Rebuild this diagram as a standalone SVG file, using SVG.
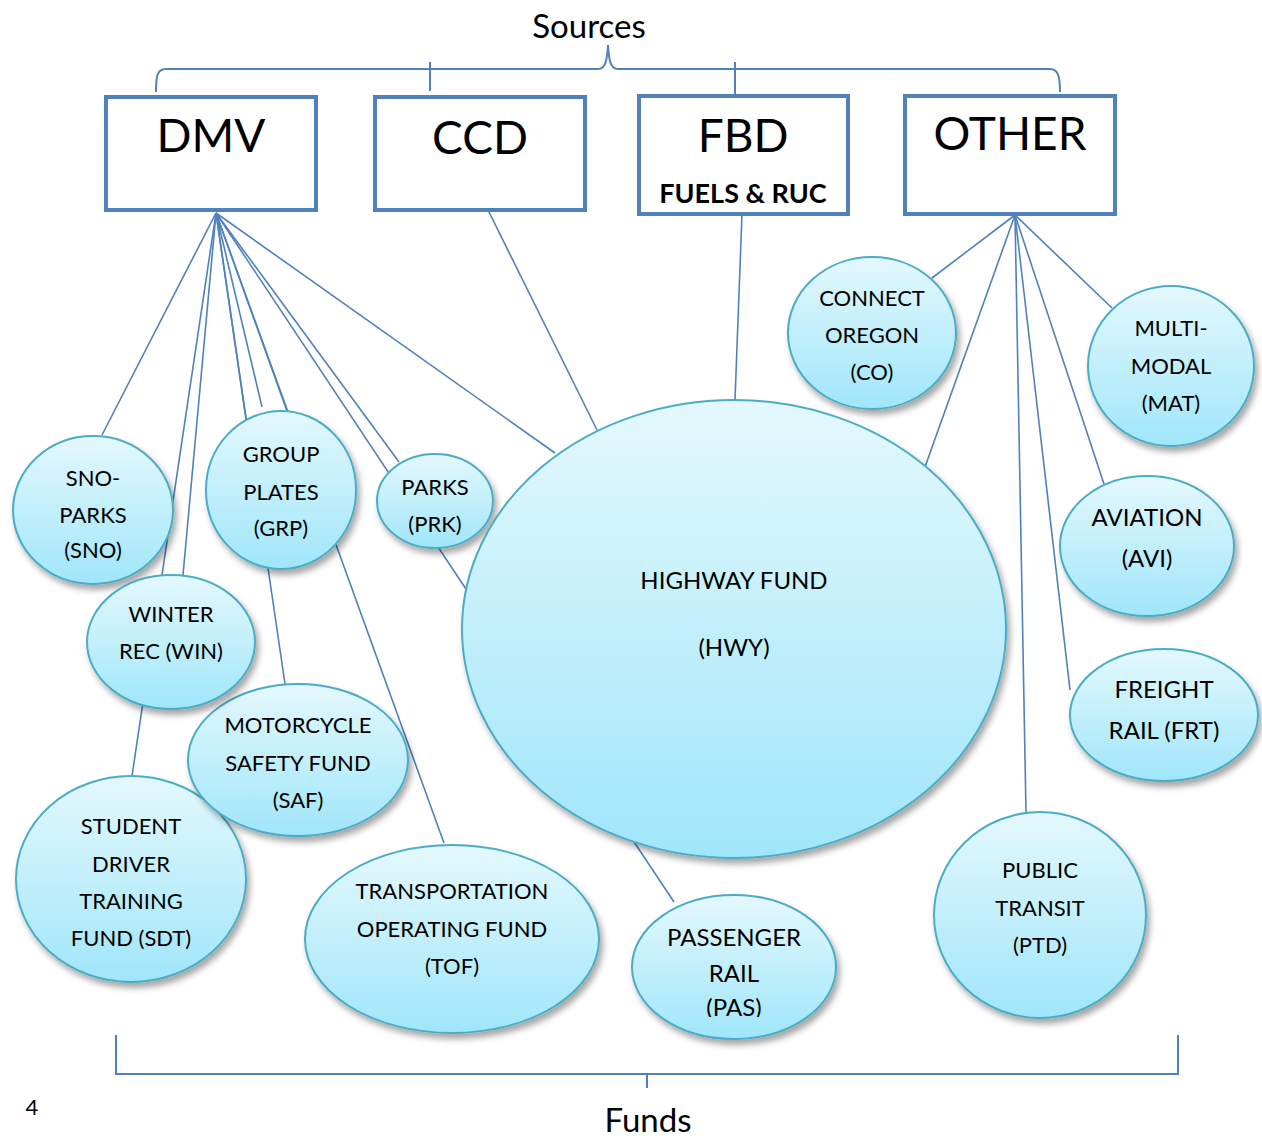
<svg xmlns="http://www.w3.org/2000/svg" width="1262" height="1140" viewBox="0 0 1262 1140">
<defs>
<linearGradient id="g" x1="0" y1="0" x2="0" y2="1">
<stop offset="0" stop-color="#E4F8FD"/>
<stop offset="1" stop-color="#A0E6FA"/>
</linearGradient>
<filter id="sh" x="-20%" y="-20%" width="140%" height="150%">
<feDropShadow dx="3" dy="5" stdDeviation="3" flood-color="#000" flood-opacity="0.35"/>
</filter>
<clipPath id="pasclip"><rect x="600" y="880" width="300" height="137"/></clipPath>
<style>
.box{fill:#fff;stroke:#4F81BD;stroke-width:4}
.el{fill:url(#g);stroke:#4BACC6;stroke-width:2;filter:url(#sh)}
.ln{stroke:#4F81BD;stroke-width:1.6;fill:none}
.br{stroke:#4F81BD;stroke-width:2;fill:none}
text{font-family:Lato,"Open Sans","Liberation Sans",sans-serif;fill:#000;text-anchor:middle}
.t{font-size:22px}
.tl{font-size:24px}
.bx{font-size:46px}
.ttl{font-size:33px}
</style>
</defs>
<rect width="1262" height="1140" fill="#fff"/>

<g id="braces">
<path class="br" d="M156,92 C156,76 157,69 166,69 L598,69 C605,69 607,62 608,45 C609,62 611,69 618,69 L1050,69 C1058,69 1060,76 1060,92"/>
<path class="br" d="M430,62 L430,91 M735,62 L735,95"/>
<path class="br" d="M116,1035 L116,1074 L1178,1074 L1178,1035 M647,1074 L647,1088"/>
<text class="ttl" x="589" y="38">Sources</text>
<text class="ttl" x="648" y="1132">Funds</text>
<text x="32" y="1115" style="font-size:22px">4</text>
</g>

<g id="connectors">
<line class="ln" x1="216" y1="213" x2="102" y2="435"/>
<line class="ln" x1="216" y1="213" x2="132" y2="776"/>
<line class="ln" x1="216" y1="213" x2="183" y2="575"/>
<line class="ln" x1="216" y1="213" x2="246" y2="419"/>
<line class="ln" x1="216" y1="213" x2="262" y2="407"/>
<line class="ln" x1="216" y1="213" x2="287" y2="411"/>
<line class="ln" x1="216" y1="213" x2="285" y2="684"/>
<line class="ln" x1="216" y1="213" x2="444" y2="843"/>
<line class="ln" x1="216" y1="213" x2="399" y2="462"/>
<line class="ln" x1="216" y1="213" x2="674" y2="902"/>
<line class="ln" x1="216" y1="213" x2="555" y2="453"/>
<line class="ln" x1="488" y1="210" x2="598" y2="432"/>
<line class="ln" x1="742" y1="214" x2="735" y2="400"/>
<line class="ln" x1="1015" y1="215" x2="932" y2="278"/>
<line class="ln" x1="1015" y1="215" x2="925" y2="467"/>
<line class="ln" x1="1015" y1="215" x2="1026" y2="812"/>
<line class="ln" x1="1015" y1="215" x2="1070" y2="690"/>
<line class="ln" x1="1015" y1="215" x2="1104" y2="484"/>
<line class="ln" x1="1015" y1="215" x2="1112" y2="308"/>
</g>

<g id="DMV"><rect class="box" x="106" y="97" width="210" height="113"/><text class="bx" x="211" y="152">DMV</text></g>
<g id="CCD"><rect class="box" x="375" y="97" width="210" height="113"/><text class="bx" x="480" y="154">CCD</text></g>
<g id="FBD"><rect class="box" x="639" y="96" width="209" height="118"/><text class="bx" x="743" y="152">FBD</text><text x="743" y="203" style="font-size:27px;font-weight:bold">FUELS &amp; RUC</text></g>
<g id="OTHER"><rect class="box" x="905" y="96" width="210" height="118"/><text class="bx" x="1010" y="150">OTHER</text></g>

<g id="SNO"><ellipse class="el" cx="93" cy="510" rx="80" ry="74"/><text class="t" x="93" y="486">SNO-</text><text class="t" x="93" y="523">PARKS</text><text class="t" x="93" y="558">(SNO)</text></g>
<g id="GRP"><ellipse class="el" cx="281" cy="490" rx="75" ry="79"/><text class="t" x="281" y="462">GROUP</text><text class="t" x="281" y="500">PLATES</text><text class="t" x="281" y="536">(GRP)</text></g>
<g id="PRK"><ellipse class="el" cx="435" cy="501" rx="58" ry="47"/><text class="t" x="435" y="495">PARKS</text><text class="t" x="435" y="532">(PRK)</text></g>
<g id="SDT"><ellipse class="el" cx="131" cy="879" rx="115" ry="103"/><text class="t" x="131" y="834">STUDENT</text><text class="t" x="131" y="872">DRIVER</text><text class="t" x="131" y="909">TRAINING</text><text class="t" x="131" y="946">FUND (SDT)</text></g>
<g id="SAF"><ellipse class="el" cx="298" cy="760" rx="110" ry="76"/><text class="t" x="298" y="733">MOTORCYCLE</text><text class="t" x="298" y="771">SAFETY FUND</text><text class="t" x="298" y="808">(SAF)</text></g>
<g id="WIN"><ellipse class="el" cx="171" cy="642" rx="84" ry="67"/><text class="t" x="171" y="622">WINTER</text><text class="t" x="171" y="659">REC (WIN)</text></g>
<g id="TOF"><ellipse class="el" cx="452" cy="939" rx="147" ry="94"/><text class="t" x="452" y="899">TRANSPORTATION</text><text class="t" x="452" y="937">OPERATING FUND</text><text class="t" x="452" y="974">(TOF)</text></g>
<g id="PAS"><ellipse class="el" cx="734" cy="967" rx="102" ry="72"/><g clip-path="url(#pasclip)"><text class="tl" x="734" y="946">PASSENGER</text><text class="tl" x="734" y="982">RAIL</text><text class="tl" x="734" y="1016">(PAS)</text></g></g>
<g id="HWY"><ellipse class="el" cx="734" cy="629" rx="272" ry="229"/><text class="tl" x="734" y="589">HIGHWAY FUND</text><text class="tl" x="734" y="656">(HWY)</text></g>
<g id="CO"><ellipse class="el" cx="872" cy="333" rx="84" ry="76"/><text class="t" x="872" y="306">CONNECT</text><text class="t" x="872" y="343">OREGON</text><text class="t" x="872" y="380">(CO)</text></g>
<g id="MAT"><ellipse class="el" cx="1171" cy="366" rx="83" ry="80"/><text class="t" x="1171" y="336">MULTI-</text><text class="t" x="1171" y="374">MODAL</text><text class="t" x="1171" y="411">(MAT)</text></g>
<g id="AVI"><ellipse class="el" cx="1147" cy="546" rx="87" ry="70"/><text class="tl" x="1147" y="526">AVIATION</text><text class="tl" x="1147" y="567">(AVI)</text></g>
<g id="FRT"><ellipse class="el" cx="1164" cy="715" rx="94" ry="66"/><text class="tl" x="1164" y="698">FREIGHT</text><text class="tl" x="1164" y="739">RAIL (FRT)</text></g>
<g id="PTD"><ellipse class="el" cx="1040" cy="915" rx="106" ry="103"/><text class="t" x="1040" y="878">PUBLIC</text><text class="t" x="1040" y="916">TRANSIT</text><text class="t" x="1040" y="953">(PTD)</text></g>
</svg>
